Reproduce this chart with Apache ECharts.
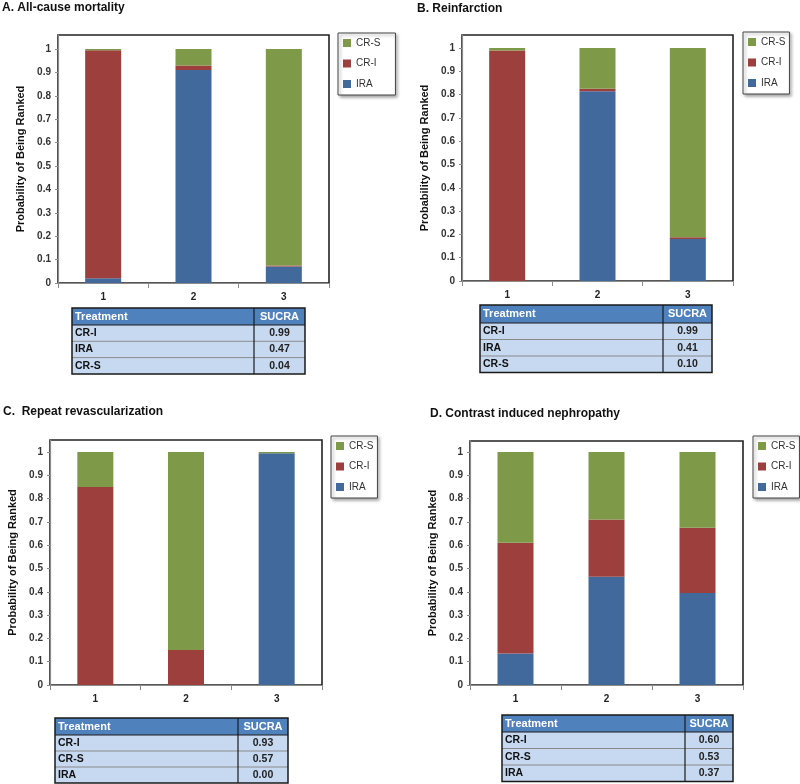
<!DOCTYPE html>
<html>
<head>
<meta charset="utf-8">
<script src="https://cdn.jsdelivr.net/npm/echarts@6/dist/echarts.min.js"></script>
<style>
html,body{margin:0;padding:0;background:#fff;}
#chart{width:800px;height:784px;}
</style>
</head>
<body>
<div id="chart"></div>
<script>
// ---- data ----
const ranks = ['1', '2', '3'];
const treatments = ['IRA', 'CR-I', 'CR-S'];
const legendOrder = ['CR-S', 'CR-I', 'IRA'];
const yTickLabels = ['0','0.1','0.2','0.3','0.4','0.5','0.6','0.7','0.8','0.9','1'];

// A. All-cause mortality
const A_IRA = [0.02, 0.91, 0.07];
const A_CRI = [0.975, 0.02, 0.005];
const A_CRS = [0.005, 0.07, 0.925];
const A_tableNames = ['CR-I', 'IRA', 'CR-S'];
const A_tableSucra = ['0.99', '0.47', '0.04'];

// B. Reinfarction
const B_IRA = [0.0, 0.815, 0.18];
const B_CRI = [0.99, 0.01, 0.008];
const B_CRS = [0.01, 0.175, 0.812];
const B_tableNames = ['CR-I', 'IRA', 'CR-S'];
const B_tableSucra = ['0.99', '0.41', '0.10'];

// C. Repeat revascularization
const C_IRA = [0.0, 0.0, 0.995];
const C_CRI = [0.85, 0.15, 0.0];
const C_CRS = [0.15, 0.85, 0.005];
const C_tableNames = ['CR-I', 'CR-S', 'IRA'];
const C_tableSucra = ['0.93', '0.57', '0.00'];

// D. Contrast induced nephropathy
const D_IRA = [0.135, 0.465, 0.395];
const D_CRI = [0.475, 0.245, 0.28];
const D_CRS = [0.39, 0.29, 0.325];
const D_tableNames = ['CR-I', 'CR-S', 'IRA'];
const D_tableSucra = ['0.60', '0.53', '0.37'];

const titles = ['A. All-cause mortality', 'B. Reinfarction', 'C.  Repeat revascularization', 'D. Contrast induced nephropathy'];
const yName = 'Probability of Being Ranked';
const tableHeader = ['Treatment', 'SUCRA'];

// ---- styles / layout ----
const FONT = 'Liberation Sans, Arial, sans-serif';
const COLORS = { 'IRA': '#41699c', 'CR-I': '#9d3f3d', 'CR-S': '#7e9a48' };
const yTickValues = yTickLabels.map(Number);

const panels = [
  { grid: {left: 58, top: 35, width: 271, height: 248}, max: 1.06,
    title: {left: 2, top: 2}, legend: {left: 338, top: 33, pr: 15},
    data: [A_IRA, A_CRI, A_CRS],
    table: {x: 72, y: 308, w: 233, div: 254, hh: 17, rh: 16.3, names: A_tableNames, vals: A_tableSucra} },
  { grid: {left: 462, top: 35, width: 271, height: 246}, max: 1.056,
    title: {left: 417, top: 3}, legend: {left: 743, top: 32, pr: 4},
    data: [B_IRA, B_CRI, B_CRS],
    table: {x: 480, y: 305, w: 232, div: 663, hh: 18, rh: 16.5, names: B_tableNames, vals: B_tableSucra} },
  { grid: {left: 50, top: 440, width: 272, height: 245}, max: 1.052,
    title: {left: 3, top: 406}, legend: {left: 331, top: 436, pr: 4},
    data: [C_IRA, C_CRI, C_CRS],
    table: {x: 55, y: 718, w: 233, div: 238, hh: 17, rh: 16, names: C_tableNames, vals: C_tableSucra} },
  { grid: {left: 470, top: 441, width: 273, height: 244}, max: 1.047,
    title: {left: 430, top: 408}, legend: {left: 753, top: 436, pr: 4},
    data: [D_IRA, D_CRI, D_CRS],
    table: {x: 502, y: 715, w: 231, div: 685, hh: 17, rh: 16.5, names: D_tableNames, vals: D_tableSucra} }
];

function makeTable(t) {
  const children = [];
  const h = t.hh + t.rh * t.names.length;
  children.push({ type: 'rect', shape: {x: t.x, y: t.y, width: t.w, height: t.hh}, style: {fill: '#4f81bd'} });
  for (let i = 0; i < t.names.length; i++) {
    const ry = t.y + t.hh + i * t.rh;
    children.push({ type: 'rect', shape: {x: t.x, y: ry, width: t.w, height: t.rh}, style: {fill: '#c6d9f1'} });
    if (i > 0) children.push({ type: 'line', shape: {x1: t.x, y1: ry, x2: t.x + t.w, y2: ry}, style: {stroke: '#8a8a8a', lineWidth: 1} });
    children.push({ type: 'text', x: t.x + 3, y: ry + t.rh / 2,
      style: {text: t.names[i], font: 'bold 10.5px ' + FONT, fill: '#111', verticalAlign: 'middle', align: 'left'} });
    children.push({ type: 'text', x: (t.div + t.x + t.w) / 2, y: ry + t.rh / 2,
      style: {text: t.vals[i], font: 'bold 10.5px ' + FONT, fill: '#222', verticalAlign: 'middle', align: 'center'} });
  }
  children.push({ type: 'line', shape: {x1: t.x, y1: t.y + t.hh, x2: t.x + t.w, y2: t.y + t.hh}, style: {stroke: '#1a1a1a', lineWidth: 1} });
  children.push({ type: 'text', x: t.x + 3, y: t.y + t.hh / 2,
    style: {text: tableHeader[0], font: 'bold 11px ' + FONT, fill: '#fff', verticalAlign: 'middle', align: 'left'} });
  children.push({ type: 'text', x: (t.div + t.x + t.w) / 2, y: t.y + t.hh / 2,
    style: {text: tableHeader[1], font: 'bold 11px ' + FONT, fill: '#fff', verticalAlign: 'middle', align: 'center'} });
  children.push({ type: 'line', shape: {x1: t.div, y1: t.y, x2: t.div, y2: t.y + h}, style: {stroke: '#1a1a1a', lineWidth: 1.2} });
  children.push({ type: 'rect', shape: {x: t.x, y: t.y, width: t.w, height: h}, style: {fill: 'none', stroke: '#1a1a1a', lineWidth: 1.5} });
  return { type: 'group', children: children, z: 10 };
}

const option = {
  animation: false,
  backgroundColor: '#fff',
  title: [], legend: [], grid: [], xAxis: [], yAxis: [], series: [], graphic: []
};

panels.forEach((p, i) => {
  option.title.push({ text: titles[i], left: p.title.left, top: p.title.top, padding: 0,
    textStyle: {fontFamily: FONT, fontSize: 12, fontWeight: 'bold', color: '#111'} });
  option.grid.push(Object.assign({ show: true, borderColor: '#222', borderWidth: 1.6, backgroundColor: '#fff' }, p.grid));
  option.xAxis.push({
    type: 'category', gridIndex: i, data: ranks,
    axisLine: {lineStyle: {color: '#8c8c8c', width: 1.2}},
    axisTick: {show: true, length: 5, lineStyle: {color: '#8c8c8c'}},
    axisLabel: {fontFamily: FONT, fontSize: 10, fontWeight: 'bold', color: '#222', margin: 9}
  });
  option.yAxis.push({
    type: 'value', gridIndex: i, min: 0, max: p.max, interval: 0.1,
    name: yName, nameLocation: 'middle', nameRotate: 90, nameGap: 32,
    nameTextStyle: {fontFamily: FONT, fontSize: 11, fontWeight: 'bold', color: '#111'},
    axisLine: {show: true, lineStyle: {color: '#8c8c8c', width: 1.2}},
    axisTick: {show: true, length: 3, customValues: yTickValues, lineStyle: {color: '#8c8c8c'}},
    splitLine: {show: false},
    axisLabel: {fontFamily: FONT, fontSize: 10, fontWeight: 'bold', color: '#333', margin: 7,
      customValues: yTickValues,
      formatter: function (v) {
        const k = Math.round(v * 10);
        if (Math.abs(v * 10 - k) > 1e-6 || k > 10) return '';
        return yTickLabels[k];
      }}
  });
  treatments.forEach((t, j) => {
    option.series.push({
      type: 'bar', name: t, xAxisIndex: i, yAxisIndex: i, stack: 'p' + i,
      data: p.data[j], barWidth: 36,
      itemStyle: {color: COLORS[t]}
    });
  });
  option.legend.push({
    data: legendOrder, orient: 'vertical', left: p.legend.left, top: p.legend.top,
    padding: [3, p.legend.pr, 4, 5], itemGap: 6.5, itemWidth: 8, itemHeight: 8, icon: 'rect',
    borderColor: '#444', borderWidth: 1, backgroundColor: '#fff',
    shadowBlur: 3, shadowOffsetX: 2, shadowOffsetY: 2, shadowColor: 'rgba(0,0,0,0.35)',
    selectedMode: false,
    textStyle: {fontFamily: FONT, fontSize: 10, color: '#333', lineHeight: 14}
  });
  option.graphic.push(makeTable(p.table));
});

const chart = echarts.init(document.getElementById('chart'), null, {renderer: 'canvas'});
chart.setOption(option);
</script>
</body>
</html>
